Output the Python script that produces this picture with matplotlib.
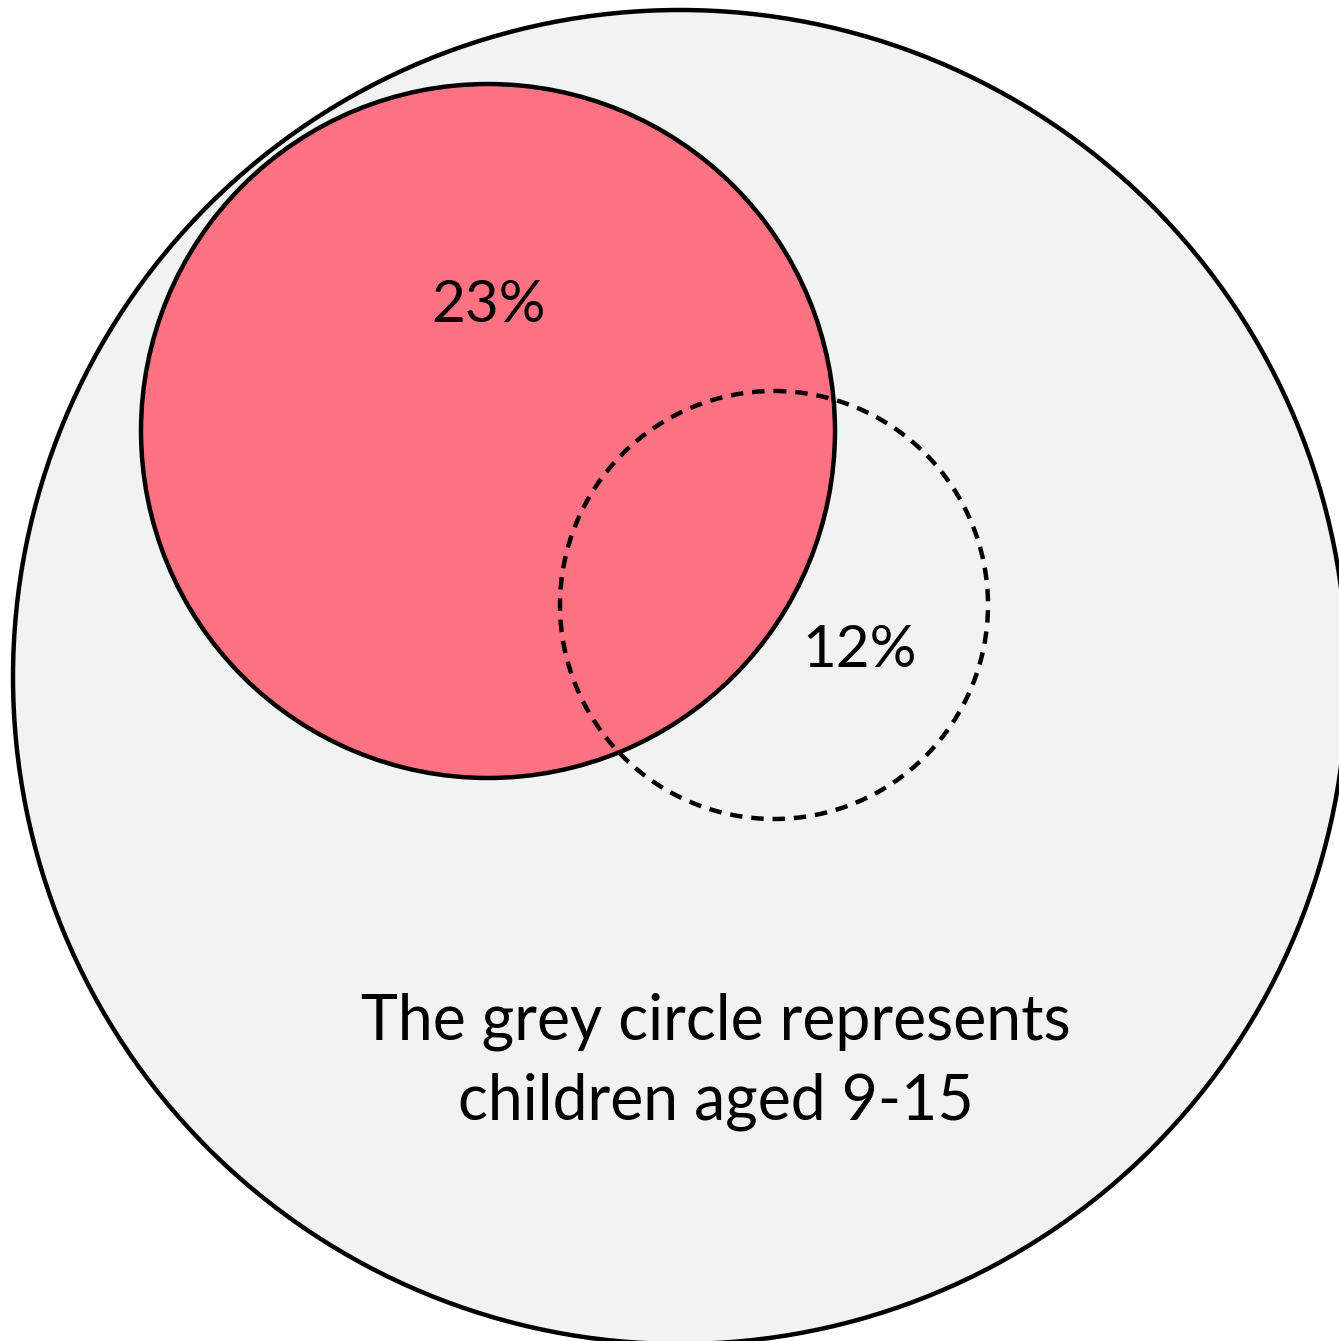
import matplotlib.pyplot as plt
from matplotlib.patches import Circle

# share labels shown inside the circles
shares = [23, 12]
share_labels = [f"{v}%" for v in shares]
caption = "The grey circle represents\nchildren aged 9-15"

# circle geometry (pixels, y downwards)
centres = [(680, 677), (488, 431), (774, 605)]
radii = [667, 347, 214]

fig = plt.figure(figsize=(13.39, 13.41), dpi=100)
ax = fig.add_axes([0, 0, 1, 1])
ax.set_xlim(0, 1339)
ax.set_ylim(1341, 0)
ax.set_aspect("equal")
ax.axis("off")

lw = 3.2

grey = Circle(centres[0], radii[0], facecolor="#f1f3f2", edgecolor="black", linewidth=lw)
red = Circle(centres[1], radii[1], facecolor="#fc7282", edgecolor="black", linewidth=lw)
dashed = Circle(centres[2], radii[2], facecolor="none", edgecolor="black",
                linewidth=lw, linestyle=(0, (2.8, 2.0)))
for c in (grey, red, dashed):
    ax.add_patch(c)

font = ["Lato", "DejaVu Sans"]
ax.text(488, 305, share_labels[0], ha="center", va="center", fontsize=42, family=font)
ax.text(860, 650, share_labels[1], ha="center", va="center", fontsize=42, family=font)
ax.text(716, 1062, caption, ha="center", va="center", fontsize=45,
        family=font, linespacing=1.45)

fig.savefig("out.png", dpi=100)
